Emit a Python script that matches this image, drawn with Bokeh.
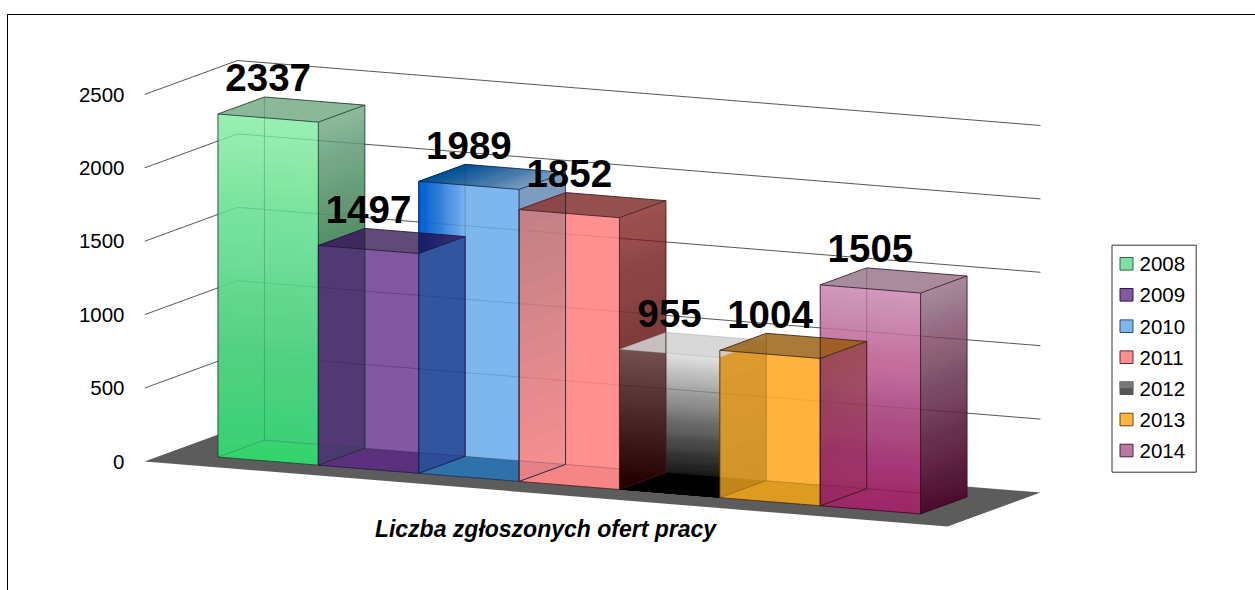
from bokeh.plotting import figure
from bokeh.models import FixedTicker, Range1d
from bokeh.core.properties import value as V
from bokeh.embed import file_html
from bokeh.resources import INLINE

years = ["2008", "2009", "2010", "2011", "2012", "2013", "2014"]
offers = [2337, 1497, 1989, 1852, 955, 1004, 1505]
tick_values = [0, 500, 1000, 1500, 2000, 2500]
title_text = "Liczba zgłoszonych ofert pracy"
FONT = "Liberation Sans"

# projection of the chart's 3D box onto the page
K = 0.1468            # px per offer
X0, Y0 = 144.0, 461.0 # page position of the floor's front left corner
UX, UY = 100.375, 8.125
DX, DY = 93.0, -34.0
NCAT = 8
Z0, Z1 = 0.25, 0.75
WIDTH, HEIGHT = 1255, 590


def Y(page_y):
    return (Y0 - page_y) / K


def P(x3, z, v):
    return X0 + UX * x3 + DX * z, v - (UY * x3 + DY * z) / K


def rgb(h):
    return tuple(int(h[i:i + 2], 16) for i in (1, 3, 5))


def over_white(target, a):
    r = [max(0, min(255, round((c - 255 * (1 - a)) / a))) for c in rgb(target)]
    return "#%02x%02x%02x" % tuple(r)


# above: side seen over the white page (top target, low target)
# below: side seen over the next bar (colour, alpha at its top, alpha at its bottom)
STYLE = [
    dict(front=("#9bf0b5", .8), front_low=("#3de478", .9), bottom=("#2fd866", .3),
         above=("#8dba9c", "#5e9a74"), below=("#2a2050", .55, .55),
         top=("#8cb89a", .7), edge="#1c3a28", edge_alpha=.85),
    dict(front=("#8259a0", .85), front_low=None, bottom=("#3c0f60", .55),
         above=None, below=("#00146a", .6, .6),
         top=("#5f4a78", .72), edge="#20103c", edge_alpha=.85),
    dict(front=("#7eb6ee", .85), front_low=None, bottom=("#155a90", .75),
         above=("#7c9cc0", "#7c9cc0"), below=("#487c83", .3, .03),
         top=("#7c9cc0", .85), edge="#0c2a50", edge_alpha=.85),
    dict(front=("#ff9090", .9), front_low=None, bottom=("#e07070", .3),
         above=("#9e5252", "#8f4a4a"), below=("#370000", .65, .65),
         top=("#964f4f", .85), edge="#401818", edge_alpha=.85),
    dict(front=("#e4e4e4", .7), front_low=("#000000", .985), bottom=("#000000", 1.0),
         above=None, below=("#5a3a00", .2, .25),
         top=("#d8d8d8", .85), edge="#888888", edge_alpha=.3),
    dict(front=("#ffb43c", .92), front_low=None, bottom=("#c88a10", .6),
         above=None, below=("#803a30", .55, .02),
         top=("#aa7b38", .8), edge="#3c2408", edge_alpha=.85),
    dict(front=("#d49abe", .85), front_low=("#a52a6c", .95), bottom=("#a02a68", .5),
         above=("#a88c9c", "#521438"), below=None,
         top=("#a88c9c", .85), edge="#301428", edge_alpha=.85),
]

# the page frame lies outside the plot area and is cut off by the window on the right
# and at the bottom, so it is painted behind the transparent canvas
FRAME = ("linear-gradient(#000,#000) 7px 14px/1px 100% no-repeat, "
         "linear-gradient(#000,#000) 7px 14px/100% 1px no-repeat, #fff")

p = figure(width=WIDTH, height=HEIGHT, output_backend="svg", toolbar_location=None,
           x_range=Range1d(144, WIDTH), y_range=Range1d(Y(HEIGHT), Y(0)),
           min_border_left=144, min_border_right=0, min_border_top=0, min_border_bottom=0,
           outline_line_color=None, background_fill_color=None, border_fill_color=None,
           styles={"background": FRAME})
p.xaxis.visible = False
p.grid.visible = False
p.yaxis.ticker = FixedTicker(ticks=tick_values)
p.yaxis.axis_line_color = None
p.yaxis.major_tick_line_color = None
p.yaxis.minor_tick_line_color = None
p.yaxis.major_tick_out = 0
p.yaxis.major_label_standoff = 20
p.yaxis.major_label_text_font = FONT
p.yaxis.major_label_text_font_size = "20.5px"
p.yaxis.major_label_text_color = "#000000"


def corners(pts):
    xy = [P(*q) for q in pts]
    return [a for a, _ in xy], [b for _, b in xy]


class Layer:
    def __init__(self):
        self.xs, self.ys, self.c, self.a = [], [], [], []

    def add(self, xy, color, alpha):
        self.xs.append(xy[0]); self.ys.append(xy[1]); self.c.append(color); self.a.append(alpha)

    def draw(self):
        p.patches(self.xs, self.ys, fill_color=self.c, fill_alpha=self.a, line_color=None)


def nested(layer, poly, color, total):
    """Stack thin layers whose summed opacity falls linearly from `total` at f=0 to 0 at f=1."""
    n = max(6, round(total / 0.02))
    T = lambda h: 1 - total * (1 - h)
    for k in range(1, n + 1):
        layer.add(poly(k / n), color, 1 - T((k - 1) / n) / T(k / n))


def box(i):
    return i + 0.5, i + 1.5


def side(b, lo, hi):
    return corners([(b, Z0, lo), (b, Z1, lo), (b, Z1, hi), (b, Z0, hi)])


# floor
floor = Layer()
floor.add(corners([(0, 0, 0), (NCAT, 0, 0), (NCAT, 1, 0), (0, 1, 0)]), "#5c5c5c", 1)
floor.draw()

# bars shut out the floor behind them
mask = Layer()
for i, v in enumerate(offers):
    a, b = box(i)
    mask.add(corners([(a, Z0, 0), (b, Z0, 0), (b, Z1, 0), (b, Z1, v), (a, Z1, v), (a, Z0, v)]), "#ffffff", 1)
mask.draw()

# grid lines on the side wall and the back wall
gx, gy = [], []
for t in tick_values[1:]:
    x, y = corners([(0, 0, t), (0, 1, t), (NCAT, 1, t)])
    gx.append(x); gy.append(y)
p.multi_line(gx, gy, line_color="#444444", line_width=0.9)

# fronts and floors of the bars
lower = Layer()
for i, v in enumerate(offers):
    s = STYLE[i]
    a, b = box(i)
    col, al = s["front"]
    lower.add(corners([(a, Z0, 0), (b, Z0, 0), (b, Z0, v), (a, Z0, v)]), over_white(col, al), al)
    if s["front_low"]:
        c2, tot = s["front_low"]
        nested(lower, lambda f, a=a, b=b, v=v: corners(
            [(a, Z0, 0), (b, Z0, 0), (b, Z0, v * f), (a, Z0, v * f)]), c2, tot)
    col, al = s["bottom"]
    lower.add(corners([(a, Z0, 0), (b, Z0, 0), (b, Z1, 0), (a, Z1, 0)]), col, al)
lower.draw()

# the bright blue sweep on the 2010 front, above the top of the 2009 side
sweep = Layer()
i = 2
a, b = box(i)
smax = (Z1 - Z0) * DX / UX


def sweep_poly(f):
    s = smax * f
    xl, yl_top = P(a, Z0, offers[i])
    xr, yr_top = P(a + s, Z0, offers[i])
    z2 = Z0 + s * UX / DX
    _, yl_low = P(a, Z0, offers[i - 1])
    _, yr_low = P(a, z2, offers[i - 1])
    return [xl, xr, xr, xl], [yl_top, yr_top, yr_low, yl_low]


nested(sweep, sweep_poly, "#0068e8", .95)
sweep.draw()

# sides and tops
upper = Layer()
for i, v in enumerate(offers):
    s = STYLE[i]
    a, b = box(i)
    nxt = min(v, offers[i + 1]) if i + 1 < len(offers) else 0
    if s["above"] and nxt < v:
        t1, t2 = s["above"]
        al = 0.75
        upper.add(side(b, nxt, v), over_white(t1, al), al)
        if t1 != t2:
            # darken from the band's bottom upward
            nested(upper, lambda f, b=b, v=v, nxt=nxt: side(b, nxt, nxt + (v - nxt) * f), t2, .95)
    if s["below"] and nxt > 0:
        c2, a_top, a_bot = s["below"]
        base = min(a_top, a_bot)
        upper.add(side(b, 0, nxt), c2, base)
        extra = 1 - (1 - max(a_top, a_bot)) / (1 - base)
        if a_top > a_bot:
            nested(upper, lambda f, b=b, nxt=nxt: side(b, nxt * (1 - f), nxt), c2, extra)
        elif a_bot > a_top:
            nested(upper, lambda f, b=b, nxt=nxt: side(b, 0, nxt * f), c2, extra)
    col, al = s["top"]
    upper.add(corners([(a, Z0, v), (b, Z0, v), (b, Z1, v), (a, Z1, v)]), over_white(col, al), al)
upper.draw()

# dark blue sweep on the 2010 top
i = 2
a, b = box(i)
topsweep = Layer()
nested(topsweep, lambda f: corners([(a, Z0, offers[2]), (a + f, Z0, offers[2]),
                                    (a + f, Z1, offers[2]), (a, Z1, offers[2])]), "#00509a", .9)
topsweep.draw()

# box edges
for i, v in enumerate(offers):
    a, b = box(i)
    e = STYLE[i]["edge"]
    ea = STYLE[i]["edge_alpha"]
    strong = [
        [(a, Z0, v), (a, Z1, v), (b, Z1, v), (b, Z0, v), (a, Z0, v)],
    ]
    if i != 4:
        strong += [
            [(a, Z0, 0), (a, Z0, v)],
            [(a, Z0, 0), (b, Z0, 0), (b, Z1, 0), (b, Z1, v)],
            [(b, Z0, 0), (b, Z0, v)],
        ]
    weak = [
        [(a, Z1, 0), (b, Z1, 0)],
        [(a, Z0, 0), (a, Z1, 0), (a, Z1, v)],
    ]
    sx, sy = zip(*[corners(q) for q in strong])
    p.multi_line(list(sx), list(sy), line_color=e, line_width=1, line_alpha=ea)
    if i != 4:
        wx, wy = zip(*[corners(q) for q in weak])
        p.multi_line(list(wx), list(wy), line_color=e, line_width=1, line_alpha=0.25)

# value labels
lx, ly, lt = [], [], []
for i, v in enumerate(offers):
    x, y = P(i + 1, Z0, v)
    lx.append(x); ly.append(y + 40.2 / K); lt.append(str(v))
p.text(lx, ly, text=lt, text_font=V(FONT), text_font_style="bold", text_font_size="38.5px",
       text_align="center", text_baseline="middle", text_color="#000000")

# axis title
p.text([545], [Y(528)], text=[title_text], text_font=V(FONT), text_font_style="bold italic",
       text_font_size="23px", text_align="center", text_baseline="middle", text_color="#000000")

# legend
swatch = [s["front"][0] for s in STYLE]
swatch[0], swatch[4], swatch[6] = "#7fe0a0", "#555555", "#b878a0"
edge = ["#2a6a44", "#2a1a50", "#264e80", "#602a30", "#555555", "#6a4410", "#502040"]
row = [263.3, 294.3, 325.7, 356.7, 387.7, 419, 450]
p.quad(left=[1111.5], right=[1195.7], top=[Y(244.7)], bottom=[Y(471.7)],
       fill_color="#ffffff", line_color="#333333", line_width=1)
p.quad(left=[1119.5] * 7, right=[1132.5] * 7,
       top=[Y(r - 6.3) for r in row], bottom=[Y(r + 6.3) for r in row],
       fill_color=swatch, line_color=edge, line_width=1)
p.quad(left=[1119], right=[1133], top=[Y(row[4] - 6.8)], bottom=[Y(row[4])],
       fill_color="#777777", line_color=None)
p.text([1139] * 7, [Y(r + 0.5) for r in row], text=years, text_font=V(FONT), text_font_size="20.5px",
       text_align="left", text_baseline="middle", text_color="#000000")

open("out.html", "w").write(file_html(p, INLINE))
